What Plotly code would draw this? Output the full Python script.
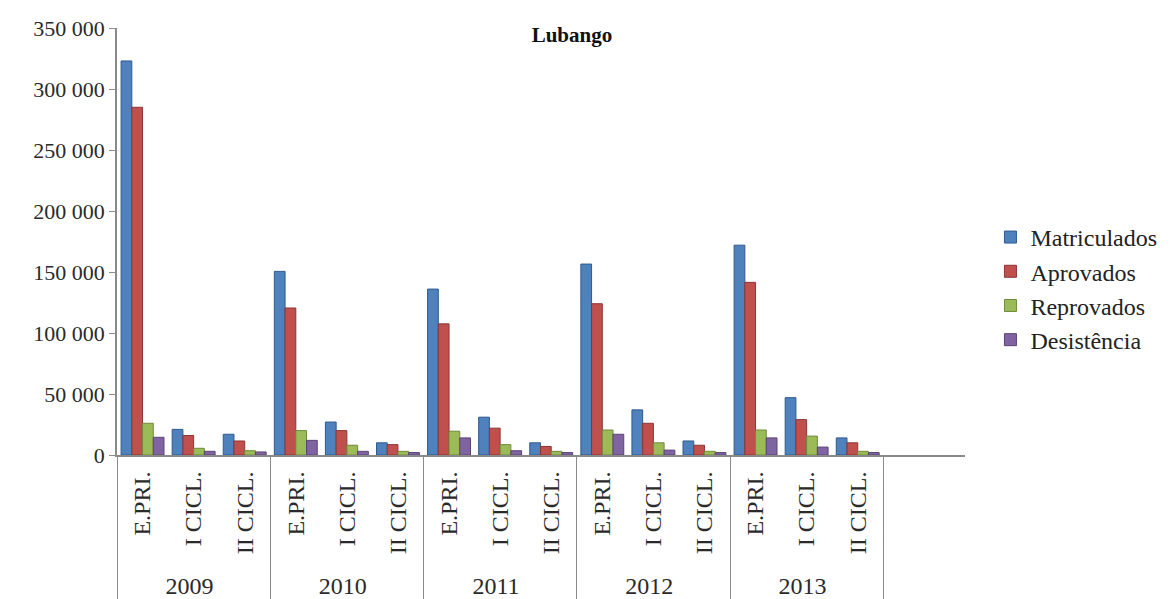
import plotly.graph_objects as go

# Enrolment figures for Lubango by school year and level
years = ["2009", "2010", "2011", "2012", "2013"]
levels = ["E.PRI.", "I CICL.", "II CICL."]

matriculados = [323000, 21000, 17000,
                150500, 27000, 10000,
                136000, 31000, 10000,
                156500, 37000, 11500,
                172000, 47000, 14000]
aprovados = [285000, 16000, 11500,
             120500, 20000, 8500,
             107500, 22000, 7000,
             124000, 26000, 8000,
             141500, 29000, 10000]
reprovados = [26000, 5500, 3500,
              20000, 8000, 3000,
              19500, 8500, 3000,
              20500, 10000, 3000,
              20500, 15500, 3000]
desistencia = [14500, 3000, 2500,
               12000, 3000, 2000,
               14000, 3500, 2000,
               17000, 4000, 2000,
               14000, 6500, 2000]

series = [
    ("Matriculados", matriculados, "#4F81BD", "#2F5A8E"),
    ("Aprovados", aprovados, "#C0504D", "#8C3533"),
    ("Reprovados", reprovados, "#9BBB59", "#6F8A3A"),
    ("Desistência", desistencia, "#8064A2", "#5A4474"),
]

outer = [y for y in years for _ in levels]
inner = [lv for _ in years for lv in levels]

FONT = "'Liberation Serif', 'Times New Roman', serif"

fig = go.Figure()
for name, vals, col, edge in series:
    fig.add_trace(go.Bar(
        x=[outer, inner], y=vals, name=name,
        marker=dict(color=col, line=dict(color=edge, width=1)),
    ))

fig.update_layout(
    width=1172, height=599,
    paper_bgcolor="white", plot_bgcolor="white",
    margin=dict(l=117, r=207, t=28, b=144, autoexpand=False),
    barmode="group", bargap=0.16, bargroupgap=0.0,
    separators=". ",
    font=dict(family=FONT, color="#222222"),
    title=dict(text="<b>Lubango</b>", x=0.488, xanchor="center",
               y=1 - 35 / 599, yanchor="middle",
               font=dict(family=FONT, size=21, color="#111111")),
    legend=dict(x=1.03, xanchor="left", y=0.39, yanchor="middle",
                font=dict(family=FONT, size=24, color="#222222"),
                itemwidth=30, tracegroupgap=1, bgcolor="rgba(0,0,0,0)"),
    showlegend=True,
)

fig.update_yaxes(
    range=[0, 350000], dtick=50000, tickformat=",d",
    showgrid=False, zeroline=False,
    showline=True, linecolor="#8a8a8a", linewidth=1.5,
    ticks="outside", ticklen=6, tickcolor="#8a8a8a",
    tickfont=dict(family=FONT, size=22, color="#2a2a2a"),
)

fig.update_xaxes(
    type="multicategory",
    range=[-0.5, 16.1],
    showgrid=False, zeroline=False,
    showline=True, linecolor="#8a8a8a", linewidth=2,
    ticks="", tickangle=-90, ticklabelstandoff=5,
    showdividers=True, dividercolor="#8a8a8a", dividerwidth=1.2,
    tickfont=dict(family=FONT, size=24, color="#2a2a2a"),
)

fig.write_html("out.html")
